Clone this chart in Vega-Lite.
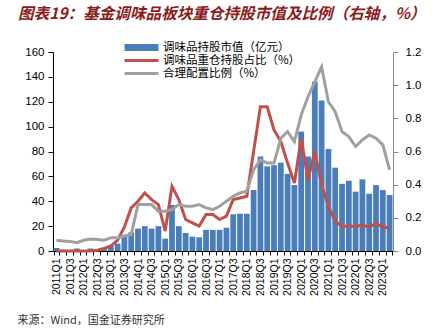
{
  "$schema": "https://vega.github.io/schema/vega-lite/v6.json",
  "width": 340,
  "height": 199,
  "autosize": {"type": "none"},
  "padding": {"left": 53, "top": 52, "right": 53, "bottom": 79},
  "background": "white",
  "config": {"view": {"stroke": null}, "legend": {"title": null}},
  "title": {
    "text": "图表19：基金调味品板块重仓持股市值及比例（右轴，%）",
    "anchor": "start", "frame": "group", "dx": -35, "offset": 17,
    "font": "Noto Sans CJK SC", "fontSize": 15.6, "fontWeight": "bold", "fontStyle": "italic",
    "color": "#8b1c1c"
  },
  "data": {"values": [
    {"q": "2011Q1", "mv": 2.5, "red": 0.0, "gray": 0.065},
    {"q": "2011Q2", "mv": 1, "red": 0.0, "gray": 0.06},
    {"q": "2011Q3", "mv": 0.5, "red": 0.0, "gray": 0.058},
    {"q": "2011Q4", "mv": 2, "red": 0.0, "gray": 0.05},
    {"q": "2012Q1", "mv": 0.5, "red": 0.0, "gray": 0.065},
    {"q": "2012Q2", "mv": 2, "red": 0.0, "gray": 0.072},
    {"q": "2012Q3", "mv": 1.5, "red": 0.005, "gray": 0.07},
    {"q": "2012Q4", "mv": 1.5, "red": 0.015, "gray": 0.065},
    {"q": "2013Q1", "mv": 4, "red": 0.03, "gray": 0.08},
    {"q": "2013Q2", "mv": 6, "red": 0.065, "gray": 0.08},
    {"q": "2013Q3", "mv": 12, "red": 0.145, "gray": 0.09},
    {"q": "2013Q4", "mv": 15, "red": 0.26, "gray": 0.1},
    {"q": "2014Q1", "mv": 18, "red": 0.3, "gray": 0.28},
    {"q": "2014Q2", "mv": 20, "red": 0.35, "gray": 0.28},
    {"q": "2014Q3", "mv": 18, "red": 0.31, "gray": 0.28},
    {"q": "2014Q4", "mv": 20, "red": 0.28, "gray": 0.24},
    {"q": "2015Q1", "mv": 10, "red": 0.12, "gray": 0.24},
    {"q": "2015Q2", "mv": 37, "red": 0.39, "gray": 0.25},
    {"q": "2015Q3", "mv": 20, "red": 0.31, "gray": 0.28},
    {"q": "2015Q4", "mv": 14.5, "red": 0.19, "gray": 0.27},
    {"q": "2016Q1", "mv": 11.5, "red": 0.17, "gray": 0.27},
    {"q": "2016Q2", "mv": 11, "red": 0.15, "gray": 0.28},
    {"q": "2016Q3", "mv": 17, "red": 0.22, "gray": 0.26},
    {"q": "2016Q4", "mv": 17, "red": 0.22, "gray": 0.25},
    {"q": "2017Q1", "mv": 17, "red": 0.19, "gray": 0.27},
    {"q": "2017Q2", "mv": 18.7, "red": 0.21, "gray": 0.3},
    {"q": "2017Q3", "mv": 29.5, "red": 0.31, "gray": 0.33},
    {"q": "2017Q4", "mv": 30, "red": 0.32, "gray": 0.35},
    {"q": "2018Q1", "mv": 30, "red": 0.33, "gray": 0.36},
    {"q": "2018Q2", "mv": 49, "red": 0.6, "gray": 0.49},
    {"q": "2018Q3", "mv": 76, "red": 0.87, "gray": 0.55},
    {"q": "2018Q4", "mv": 68, "red": 0.87, "gray": 0.53},
    {"q": "2019Q1", "mv": 69, "red": 0.73, "gray": 0.53},
    {"q": "2019Q2", "mv": 71, "red": 0.66, "gray": 0.68},
    {"q": "2019Q3", "mv": 62, "red": 0.53, "gray": 0.72},
    {"q": "2019Q4", "mv": 53, "red": 0.41, "gray": 0.66},
    {"q": "2020Q1", "mv": 96, "red": 0.68, "gray": 0.82},
    {"q": "2020Q2", "mv": 76, "red": 0.43, "gray": 0.93},
    {"q": "2020Q3", "mv": 136, "red": 0.6, "gray": 1.02},
    {"q": "2020Q4", "mv": 121, "red": 0.4, "gray": 1.11},
    {"q": "2021Q1", "mv": 82, "red": 0.27, "gray": 0.9},
    {"q": "2021Q2", "mv": 67, "red": 0.18, "gray": 0.84},
    {"q": "2021Q3", "mv": 54, "red": 0.15, "gray": 0.72},
    {"q": "2021Q4", "mv": 56.5, "red": 0.15, "gray": 0.69},
    {"q": "2022Q1", "mv": 47.7, "red": 0.15, "gray": 0.63},
    {"q": "2022Q2", "mv": 57.6, "red": 0.155, "gray": 0.67},
    {"q": "2022Q3", "mv": 46, "red": 0.145, "gray": 0.7},
    {"q": "2022Q4", "mv": 53, "red": 0.165, "gray": 0.68},
    {"q": "2023Q1", "mv": 49, "red": 0.145, "gray": 0.64},
    {"q": "2023Q2", "mv": 45, "red": 0.14, "gray": 0.49}
  ]},
  "encoding": {
    "x": {
      "field": "q", "type": "ordinal", "sort": null,
      "scale": {"paddingInner": 0.15, "paddingOuter": 0.075},
      "axis": {
        "title": "来源：Wind，国金证券研究所",
        "titleX": -36, "titleY": 69, "titleAnchor": "start", "titleAlign": "left", "titleBaseline": "middle",
        "titleFont": "Noto Sans CJK SC", "titleFontSize": 11, "titleFontWeight": "normal", "titleColor": "#333333",
        "labelAngle": -90,
        "labelExpr": "test(/Q[13]$/, datum.value) ? datum.value : ''",
        "labelFont": "Liberation Sans", "labelFontSize": 10.5, "labelColor": "#000000", "labelPadding": 3,
        "tickBand": "extent", "tickSize": 4, "domainColor": "#000000", "tickColor": "#000000",
        "labelOverlap": false
      }
    }
  },
  "layer": [
    {
      "mark": {"type": "bar"},
      "encoding": {
        "y": {
          "field": "mv", "type": "quantitative",
          "scale": {"domain": [0, 160], "nice": false},
          "axis": {
            "title": null, "values": [0, 20, 40, 60, 80, 100, 120, 140, 160], "grid": false,
            "labelFont": "Liberation Sans", "labelFontSize": 11.5, "labelColor": "#000000",
            "domainColor": "#000000", "tickColor": "#000000", "tickSize": 5, "labelPadding": 4
          }
        },
        "color": {
          "datum": "mv",
          "scale": {"domain": ["mv", "red", "gray"], "range": ["#4a7ebb", "#c0504d", "#a0a0a0"]},
          "legend": {
            "orient": "none", "legendX": 70, "legendY": -12, "title": null,
            "symbolType": "M-3,0H3", "symbolSize": 128, "symbolStrokeWidth": 3, "symbolOffset": 11,
            "labelFont": "Noto Sans CJK SC", "labelFontSize": 11.5, "labelColor": "#000000",
            "rowPadding": 0, "labelOffset": 14, "padding": 0,
            "labelExpr": "datum.label == 'mv' ? '调味品持股市值（亿元）' : datum.label == 'red' ? '调味品重仓持股占比（%）' : '合理配置比例（%）'",
            "encode": {
              "symbols": {
                "update": {
                  "shape": {"signal": "datum.value === 'mv' ? 'M-3,-0.62H3V0.62H-3Z' : 'M-3,0H3'"},
                  "stroke": {"signal": "scale('color', datum.value)"},
                  "strokeOpacity": {"signal": "datum.value === 'mv' ? 0 : 1"},
                  "fill": {"signal": "datum.value === 'mv' ? scale('color', datum.value) : 'transparent'"},
                  "strokeWidth": {"value": 3},
                  "strokeJoin": {"value": "round"}
                }
              }
            }
          }
        }
      }
    },
    {
      "transform": [{"fold": ["red", "gray"], "as": ["series", "ratio"]}],
      "mark": {"type": "line", "strokeWidth": 3},
      "encoding": {
        "y": {
          "field": "ratio", "type": "quantitative",
          "scale": {"domain": [0, 1.2], "nice": false},
          "axis": {
            "orient": "right", "title": null, "format": ".1f",
            "values": [0, 0.2, 0.4, 0.6, 0.8, 1.0, 1.2], "grid": false,
            "labelFont": "Liberation Sans", "labelFontSize": 11.5, "labelColor": "#000000",
            "domainColor": "#888888", "tickColor": "#888888", "tickSize": 5, "labelPadding": 7
          }
        },
        "color": {"field": "series", "type": "nominal"}
      }
    }
  ],
  "resolve": {"scale": {"y": "independent"}}
}
